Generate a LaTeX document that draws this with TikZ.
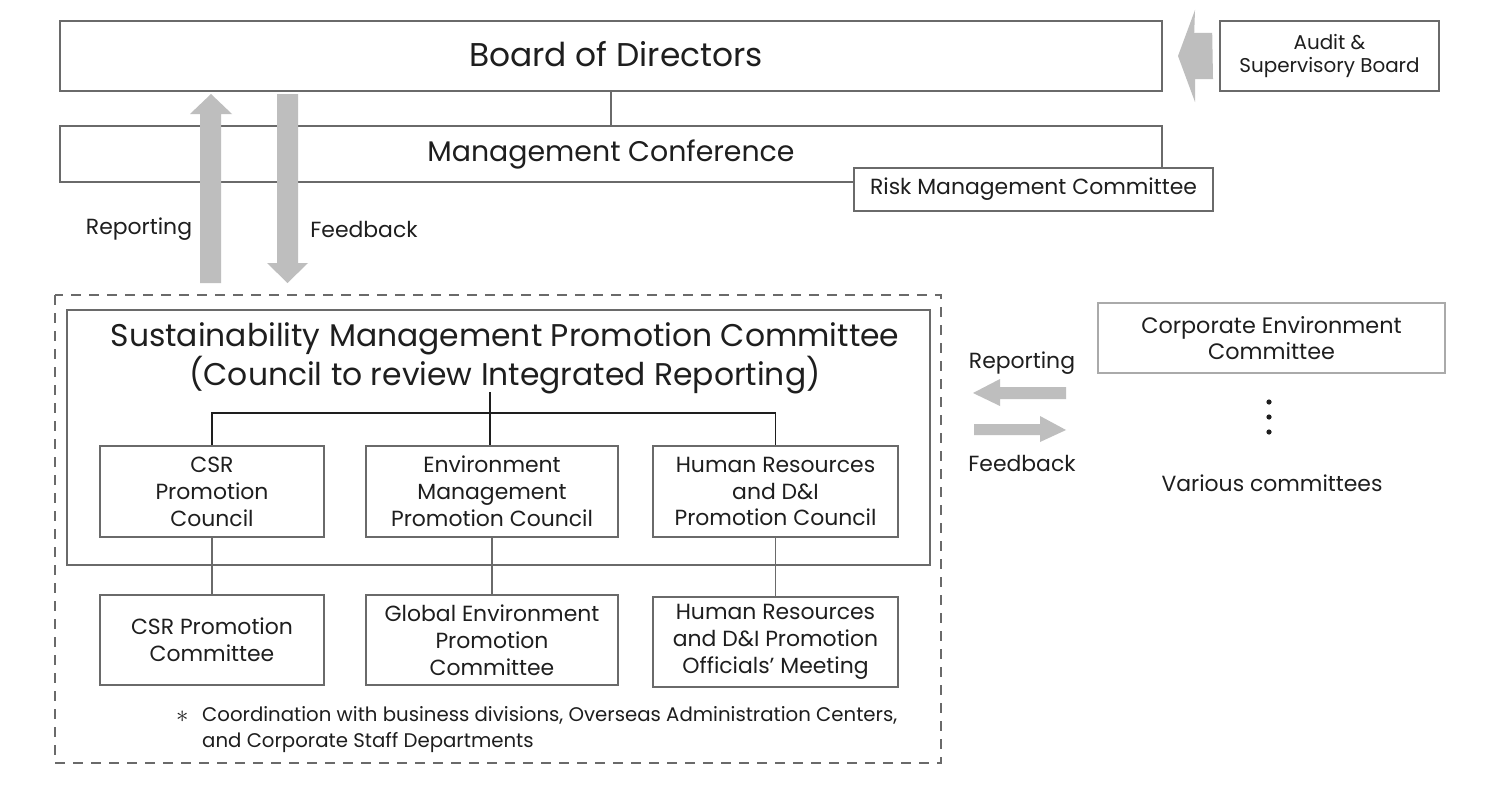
\documentclass[tikz,border=0pt]{standalone}
\usepackage{fontspec}
\setmainfont{Poppins}
\definecolor{boxgray}{HTML}{6A6A6A}
\definecolor{lightbox}{HTML}{AAAAAA}
\definecolor{arrowgray}{HTML}{BEBEBE}
\definecolor{txt}{HTML}{1E1E1E}
\begin{document}
\begin{tikzpicture}[x=1bp,y=-1bp,
  box/.style={draw=boxgray,line width=1.6bp,inner sep=0pt,align=center,text=txt},
  big/.style={font=\fontsize{31.5}{39}\selectfont},
  mid/.style={font=\fontsize{22}{27}\selectfont},
  small/.style={font=\fontsize{20}{24}\selectfont},
  note/.style={font=\fontsize{19.8}{26}\selectfont},
  lbl/.style={text=txt,inner sep=0pt,align=center},
  link/.style={draw=boxgray,line width=1.6bp},
  tree/.style={draw=txt,line width=1.6bp},
  blk/.style={fill=arrowgray,draw=none}]
\useasboundingbox (0,0) rectangle (1499,799);
\fill[white] (0,0) rectangle (1499,799);

% top boxes
\node[box,font=\fontsize{33}{39}\selectfont,minimum width=1102bp,minimum height=70bp] (bod) at (611,56) {\hspace{10bp}\raisebox{5bp}{Board of Directors}};
\node[box,font=\fontsize{28.5}{34}\selectfont,minimum width=1102bp,minimum height=56bp] (mc) at (611,154) {\raisebox{7bp}{Management Conference}};
\node[box,mid,fill=white,minimum width=359bp,minimum height=43bp] (risk) at (1033.5,189.5) {Risk Management Committee};
\node[box,small,minimum width=219bp,minimum height=70bp] (audit) at (1329.5,56) {Audit \&\\Supervisory Board};
\draw[link] (bod.south) -- (mc.north);

% arrow from audit board
\fill[blk] (audit.west) ++(-7,-23) -- ++(-18,0) -- (1195,10) -- (1178,56) -- (1195,102) -- (1195,79) -- (1213,79) -- cycle;

% reporting / feedback vertical arrows
\fill[blk] (200,283) -- (200,114) -- (190,114) -- (211,94) -- (232,114) -- (221,114) -- (221,283) -- cycle;
\fill[blk] (277,94) -- (277,263) -- (267,263) -- (287.5,283) -- (308,263) -- (298,263) -- (298,94) -- cycle;
\node[lbl,mid] (rep1) at (139,229) {Reporting};
\node[lbl,mid] (fb1) at (364,229) {Feedback};

% dashed frame
\draw[draw=boxgray,line width=1.4bp,dash pattern=on 10bp off 8bp] (55,295) rectangle (941,763);
\node[box,minimum width=863bp,minimum height=255bp] (smpc) at (498.5,437.5) {};
\node[lbl,big] (smpct) at (505,358) {Sustainability Management Promotion Committee\\(Council to review Integrated Reporting)};
\coordinate (tt) at (490,392);

% councils
\node[box,mid,minimum width=224bp,minimum height=91bp] (csr) at (212,491.5) {CSR\\Promotion\\Council};
\node[box,mid,minimum width=252bp,minimum height=91bp] (env) at (492,491.5) {Environment\\Management\\Promotion Council};
\node[box,mid,minimum width=245bp,minimum height=91bp] (hr) at (775.5,491.5) {Human Resources\\and D\&I\\Promotion Council};
\draw[tree] (tt) -- (tt |- env.north);
\draw[tree] (csr.north) -- ++(0,-32) -| (hr.north);

% committees
\node[box,mid,minimum width=224bp,minimum height=90bp] (csrc) at (212,640) {CSR Promotion\\Committee};
\node[box,mid,minimum width=252bp,minimum height=90bp] (gec) at (492,640) {Global Environment\\Promotion\\Committee};
\node[box,mid,minimum width=245bp,minimum height=90bp] (hrm) at (775.5,642) {Human Resources\\and D\&I Promotion\\Officials' Meeting};
\draw[link] (csr.south) -- (csrc.north);
\draw[link] (env.south) -- (gec.north);
\draw[link] (hr.south) -- (hrm.north);

\node[lbl,note,anchor=north west,align=left] (note) at (176,706) {\makebox[26bp][l]{\raisebox{-1bp}{\fontsize{28}{28}\selectfont$\ast$}}Coordination with business divisions, Overseas Administration Centers,\\\hspace{26bp}and Corporate Staff Departments};

% right side
\node[box,font=\fontsize{22.4}{26}\selectfont,draw=lightbox,line width=1.2bp,minimum width=347bp,minimum height=70bp] (cec) at (1271.5,338) {Corporate Environment\\Committee};
\node[lbl,mid] (rep2) at (1022,363) {Reporting};
\node[lbl,mid] (fb2) at (1022,463) {Feedback};
\fill[blk] (1066,387) -- (1000,387) -- (1000,379) -- (973,393) -- (1000,406) -- (1000,399) -- (1066,399) -- cycle;
\fill[blk] (974,424) -- (1040,424) -- (1040,416) -- (1066,430) -- (1040,442) -- (1040,435) -- (974,435) -- cycle;
\fill[txt] (1269,402) circle (2.6bp) (1269,417) circle (2.6bp) (1269,432) circle (2.6bp);
\node[lbl,mid] (var) at (1272,483) {Various committees};
\end{tikzpicture}
\end{document}
